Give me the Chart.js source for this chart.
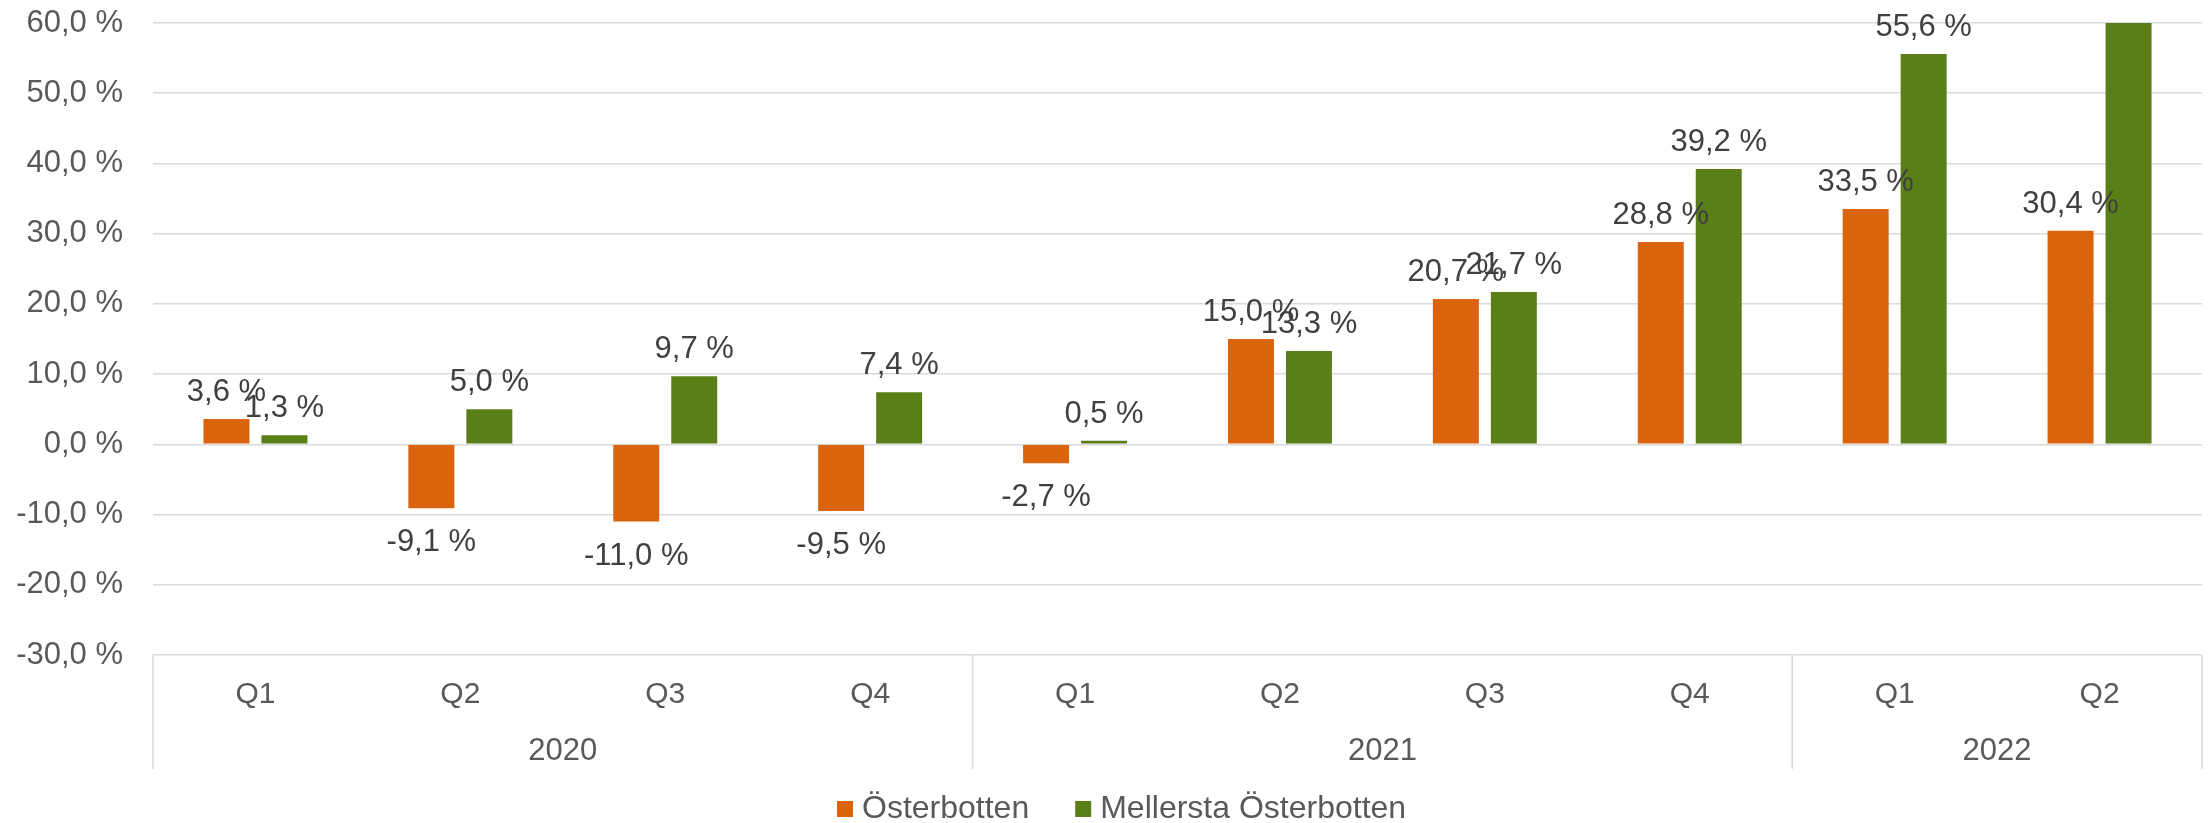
<!DOCTYPE html>
<html>
<head>
<meta charset="utf-8">
<script src="https://cdn.jsdelivr.net/npm/chart.js@4"></script>
<style>
  html, body { margin: 0; padding: 0; background: #ffffff; }
  #wrap { width: 2208px; height: 823px; }
</style>
</head>
<body>
<div id="wrap"><canvas id="c" width="2208" height="823"></canvas></div>
<script>
// ---- data ----
const quarters = ['Q1', 'Q2', 'Q3', 'Q4', 'Q1', 'Q2', 'Q3', 'Q4', 'Q1', 'Q2'];
const years = ['2020', '2021', '2022'];
const yearSpans = [4, 4, 2];
const seriesNames = ['Österbotten', 'Mellersta Österbotten'];
const osterbotten = [3.6, -9.1, -11.0, -9.5, -2.7, 15.0, 20.7, 28.8, 33.5, 30.4];
const mellersta = [1.3, 5.0, 9.7, 7.4, 0.5, 13.3, 21.7, 39.2, 55.6, 64.0]; // last bar exceeds the 60 % axis maximum
const yMin = -30, yMax = 60, yStep = 10;

const FONT = '"Liberation Sans", Arial, Helvetica, sans-serif';
const ORANGE = '#DA640E';
const GREEN = '#5A7F19';
const GRID = '#d9d9d9';
const AXIS_TEXT = '#595959';
const LABEL_TEXT = '#404040';

function fmt(v) {
  return v.toFixed(1).replace('.', ',') + ' %';
}

const decorPlugin = {
  id: 'decor',
  afterDatasetsDraw(chart) {
    const ctx = chart.ctx;
    ctx.save();
    ctx.font = '31px ' + FONT;
    ctx.fillStyle = LABEL_TEXT;
    ctx.textAlign = 'center';
    ctx.textBaseline = 'alphabetic';
    chart.data.datasets.forEach((ds, di) => {
      const meta = chart.getDatasetMeta(di);
      meta.data.forEach((el, i) => {
        const v = ds.data[i];
        if (v > yMax || v < yMin) return;
        const y = v >= 0 ? el.y - 18 : el.y + 43;
        ctx.fillText(fmt(v), el.x, y);
      });
    });
    ctx.restore();
  },
  afterDraw(chart) {
    const ctx = chart.ctx;
    const ca = chart.chartArea;
    const xs = chart.scales.x;
    const bottom = 769;
    ctx.save();
    ctx.strokeStyle = GRID;
    ctx.lineWidth = 1.5;
    const bounds = [ca.left];
    let idx = 0;
    yearSpans.forEach((span) => {
      idx += span;
      if (idx >= quarters.length) {
        bounds.push(ca.right);
      } else {
        bounds.push((xs.getPixelForTick(idx - 1) + xs.getPixelForTick(idx)) / 2);
      }
    });
    bounds.forEach((bx) => {
      ctx.beginPath();
      ctx.moveTo(bx, ca.bottom);
      ctx.lineTo(bx, bottom);
      ctx.stroke();
    });
    ctx.font = '31px ' + FONT;
    ctx.fillStyle = AXIS_TEXT;
    ctx.textAlign = 'center';
    ctx.textBaseline = 'alphabetic';
    years.forEach((yr, k) => {
      ctx.fillText(yr, (bounds[k] + bounds[k + 1]) / 2, 760);
    });
    // legend
    const colors = [ORANGE, GREEN];
    ctx.font = '32px ' + FONT;
    let lx = 837;
    ctx.textAlign = 'left';
    seriesNames.forEach((name, k) => {
      ctx.fillStyle = colors[k];
      ctx.fillRect(lx, 801, 16, 16);
      ctx.fillStyle = AXIS_TEXT;
      ctx.fillText(name, lx + 25, 818);
      lx += 25 + ctx.measureText(name).width + 46;
    });
    ctx.restore();
  }
};

new Chart(document.getElementById('c'), {
  type: 'bar',
  data: {
    labels: quarters,
    datasets: [
      { label: seriesNames[0], data: osterbotten, backgroundColor: ORANGE, borderWidth: 0 },
      { label: seriesNames[1], data: mellersta, backgroundColor: GREEN, borderWidth: 0 }
    ]
  },
  options: {
    responsive: false,
    devicePixelRatio: 1,
    animation: false,
    layout: { padding: { top: 23, right: 6, bottom: 54, left: 0 } },
    datasets: { bar: { categoryPercentage: 0.566, barPercentage: 0.793 } },
    plugins: {
      legend: { display: false },
      tooltip: { enabled: false }
    },
    scales: {
      x: {
        grid: { display: false, drawTicks: false },
        border: { display: false },
        ticks: {
          font: { family: FONT, size: 30 },
          color: AXIS_TEXT,
          padding: 22,
          maxRotation: 0,
          autoSkip: false
        },
        afterFit(scale) { scale.height = 114; }
      },
      y: {
        min: yMin,
        max: yMax,
        grid: { color: GRID, lineWidth: 1.5, drawTicks: false },
        border: { display: false },
        ticks: {
          stepSize: yStep,
          font: { family: FONT, size: 31 },
          color: AXIS_TEXT,
          padding: 30,
          callback: (v) => fmt(v)
        },
        afterFit(scale) {
          scale.width = 153;
          scale.paddingTop = 0;
          scale.paddingBottom = 0;
        }
      }
    }
  },
  plugins: [decorPlugin]
});
</script>
</body>
</html>
